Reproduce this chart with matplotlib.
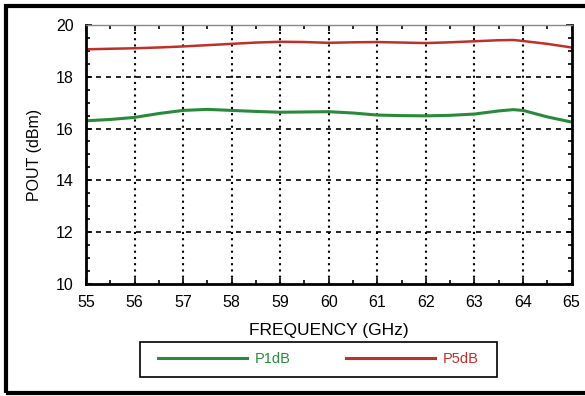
import numpy as np
import matplotlib.pyplot as plt
from matplotlib.patches import Rectangle
from matplotlib.ticker import MultipleLocator

plt.rcParams['font.family'] = ['Liberation Sans', 'DejaVu Sans']

freq = [55, 55.5, 56, 56.5, 57, 57.5, 58, 58.5, 59, 59.5, 60, 60.5,
        61, 61.5, 62, 62.5, 63, 63.5, 63.8, 64, 64.5, 65]
p1db = [16.30, 16.35, 16.43, 16.58, 16.70, 16.74, 16.70, 16.66, 16.63, 16.64, 16.65, 16.60,
        16.52, 16.50, 16.49, 16.51, 16.56, 16.68, 16.73, 16.70, 16.45, 16.25]
p5db = [19.06, 19.08, 19.10, 19.13, 19.17, 19.22, 19.27, 19.32, 19.35, 19.34, 19.31, 19.33,
        19.34, 19.32, 19.30, 19.33, 19.37, 19.41, 19.42, 19.38, 19.27, 19.13]

green = '#2a8a3c'
red = '#c0302b'

fig = plt.figure(figsize=(5.85, 3.96), dpi=100)
ax = fig.add_axes([0.147, 0.283, 0.83, 0.654])

ax.plot(freq, p1db, color=green, lw=2.2, label='P1dB')
ax.plot(freq, p5db, color=red, lw=1.8, label='P5dB')

ax.set_xlim(55, 65)
ax.set_ylim(10, 20)
ax.set_xticks(range(55, 66))
ax.set_yticks(range(10, 21, 2))
ax.xaxis.set_minor_locator(MultipleLocator(0.5))
ax.yaxis.set_minor_locator(MultipleLocator(0.5))
ax.tick_params(which='both', direction='in', top=True, right=True, labelsize=11.5)
ax.tick_params(which='major', length=4, width=1.2)
ax.tick_params(which='minor', length=3, width=1.2)
ax.tick_params(axis='x', pad=8)
ax.tick_params(axis='y', pad=9)

for x in range(56, 65):
    ax.axvline(x, color='black', lw=1.5, ls=(0, (1, 2)), zorder=0)
for y in range(12, 20, 2):
    ax.axhline(y, color='black', lw=1.2, ls=(0, (3, 3)), zorder=0)

for s in ['left', 'bottom', 'right']:
    ax.spines[s].set_linewidth(2)
ax.spines['top'].set_color('#888888')
ax.spines['top'].set_linewidth(1)

ax.set_xlabel('FREQUENCY (GHz)', fontsize=12.5, labelpad=9)
ax.set_ylabel('POUT (dBm)', fontsize=11.5, labelpad=10)

leg = fig.legend(loc='center', bbox_to_anchor=(318.5 / 585, 1 - 359 / 396), ncol=2,
                 frameon=False, fontsize=10.5,
                 handlelength=6.1, handletextpad=0.55, columnspacing=3.8,
                 labelcolor='linecolor')
for line in leg.get_lines():
    line.set_linewidth(2.2)

fig.patches.append(Rectangle((140 / 585, 1 - 377 / 396), 357 / 585, 35 / 396,
                             transform=fig.transFigure, fill=False,
                             edgecolor='black', lw=1.2))
fig.patches.append(Rectangle((6 / 585, 3 / 396), 1.05, 1 - 9 / 396, transform=fig.transFigure,
                             fill=False, edgecolor='black', lw=3, clip_on=False))

fig.savefig('out.png', dpi=100)
